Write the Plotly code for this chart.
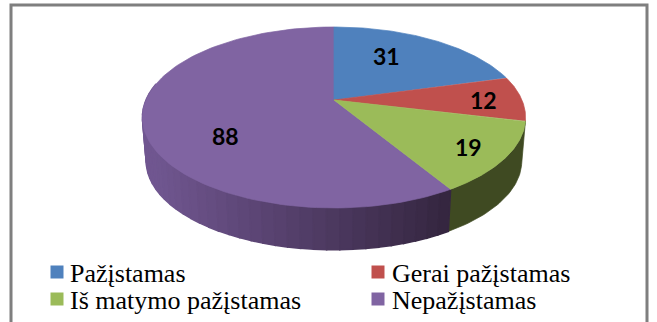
import numpy as np
import plotly.graph_objects as go

categories = ["Pažįstamas", "Gerai pažįstamas", "Iš matymo pažįstamas", "Nepažįstamas"]
values = [31, 12, 19, 88]
top_colors = ["#4f81bd", "#c0504d", "#9bbb59", "#8064a2"]

W, H = 657, 322
CX, CY = 334, 100
A, B, K = 188, 87.1, 0.193
DEPTH, BOTTOM_SCALE = 44, 0.98
label_pos = [(386, 56), (483, 100), (468, 147), (225, 136)]
legend_pos = [(57, 272, 68), (378, 272, 390), (57, 299, 68), (378, 299, 390)]
frame_x = [11, 11, 647, 647]
frame_y = [322, 5, 5, 322]


def project(theta, depth=0.0, scale=1.0):
    u, v = np.sin(theta), np.cos(theta)
    d = 1 + K * v
    return CX + scale * A * u / d, CY - scale * B * v / d + depth


def mix(c1, c2, t):
    t = min(max(t, 0), 1)
    return "rgb(%d,%d,%d)" % tuple(round(a + (b - a) * t) for a, b in zip(c1, c2))


fig = go.Figure()


def poly(x, y, color, lw=0.7):
    x, y = list(x), list(y)
    fig.add_trace(go.Scatter(x=x + x[:1], y=y + y[:1], mode="lines", fill="toself",
                             fillcolor=color, line=dict(color=color, width=lw),
                             hoverinfo="skip", showlegend=False))


total = sum(values)
edges = np.cumsum([0] + values) / total * 2 * np.pi

# walls
green_i, purple_i = 2, 3
t = np.linspace(edges[green_i], edges[purple_i], 40)
xt, yt = project(t)
xb, yb = project(t, DEPTH, BOTTOM_SCALE)
poly(np.r_[xt, xb[::-1]], np.r_[yt, yb[::-1]], "#3f4a22")

end = np.deg2rad(281)
steps = np.linspace(edges[purple_i], end, 41)
light, dark = (112, 86, 144), (52, 37, 63)
xleft, xright = project(end)[0], project(edges[purple_i])[0]
# drawn from the left so neighbouring strips overlap cleanly
for a0, a1 in list(zip(steps[:-1], steps[1:]))[::-1]:
    t = np.linspace(a0, a1, 5)
    xt, yt = project(t)
    xb, yb = project(t, DEPTH, BOTTOM_SCALE)
    frac = (xt.mean() - xleft) / (xright - xleft)
    poly(np.r_[xt, xb[::-1]], np.r_[yt, yb[::-1]], mix(light, dark, frac), lw=1.5)

# top faces
for i in [3, 0, 1, 2]:
    t = np.linspace(edges[i], edges[i + 1], 120)
    x, y = project(t)
    poly(np.r_[CX, x], np.r_[CY, y], top_colors[i])

# frame
fig.add_trace(go.Scatter(x=frame_x, y=frame_y, mode="lines",
                         line=dict(color="#7f7f7f", width=3),
                         hoverinfo="skip", showlegend=False))

# labels
for v, (x, y) in zip(values, label_pos):
    fig.add_annotation(xref="x", yref="y", x=x, y=y, text=str(v), showarrow=False,
                       font=dict(family="Lato", size=23, color="black", weight=700))

# legend
for name, color, (mx, my, tx) in zip(categories, top_colors, legend_pos):
    fig.add_trace(go.Scatter(x=[mx], y=[my], mode="markers",
                             marker=dict(symbol="square", size=13, color=color),
                             hoverinfo="skip", showlegend=False))
    fig.add_annotation(xref="x", yref="y", x=tx, y=my + 1, text=name, showarrow=False, xanchor="left",
                       font=dict(family="Liberation Serif", size=26, color="black"))

fig.update_layout(width=W, height=H, margin=dict(l=0, r=0, t=0, b=0),
                  paper_bgcolor="white", plot_bgcolor="white",
                  xaxis=dict(range=[0, W], visible=False, fixedrange=True),
                  yaxis=dict(range=[H, 0], visible=False, fixedrange=True))
fig.write_html("out.html", config=dict(displayModeBar=False),
               post_script="document.body.style.margin='0';document.body.style.overflow='hidden';")
